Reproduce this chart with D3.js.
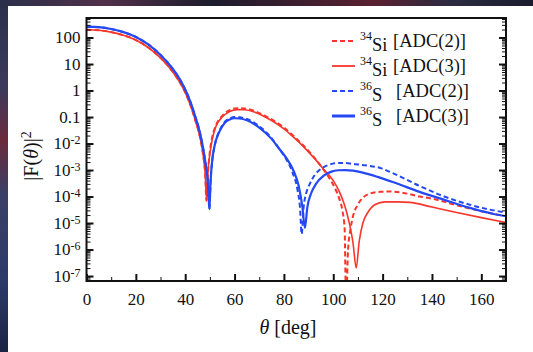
<!DOCTYPE html>
<html><head><meta charset="utf-8">
<script src="https://cdn.jsdelivr.net/npm/d3@7/dist/d3.min.js"></script>
<style>
html,body{margin:0;padding:0;background:#1b2033;}
svg{display:block;}
svg text{font-family:"Liberation Serif","Times New Roman",Times,"DejaVu Serif",serif !important;fill:#111;}
</style></head>
<body>
<svg id="chart" width="533" height="352"></svg>
<script>
// ---- data (theta in degrees, |F(theta)|^2) ----
const si34Adc2 = [[0,196],[5,188],[10,160],[15,122],[20,80],[25,42],[30,17],[35,5],[38,1.9],[40,0.85],[42,0.3],[44,0.08],[46,0.017],[47.3,3.5e-3],[48.1,7e-4],[48.6,7e-5],
  [49.3,1e-3],[50,5e-3],[51,0.018],[52.5,0.05],[55,0.11],[58,0.18],[61,0.215],[64,0.21],[68,0.17],[72,0.115],[76,0.072],[80,0.04],[84,0.019],[88,8.2e-3],[92,3.2e-3],[96,1.05e-3],[99,4e-4],[101,1.8e-4],[102.5,8e-5],[103.7,3e-5],[104.6,6e-6],[105.2,1e-8],
  [106,1e-6],[107,6e-6],[108,1.8e-5],[110,5e-5],[112,9e-5],[115,1.3e-4],[119,1.5e-4],[123,1.55e-4],[128,1.4e-4],[135,1e-4],[140,8.3e-5],[150,4.7e-5],[160,2.8e-5],[170,1.8e-5]];
const si34Adc3 = [[0,196],[5,188],[10,160],[15,122],[20,80],[25,42],[30,17],[35,5],[38,1.9],[40,0.85],[42,0.3],[44,0.08],[46,0.017],[47.3,3.5e-3],[48.1,7e-4],[48.7,7e-5],
  [49.2,8e-4],[50,4e-3],[51,0.015],[52.5,0.045],[55,0.1],[58,0.16],[61,0.19],[64,0.188],[68,0.155],[72,0.105],[76,0.065],[80,0.036],[84,0.017],[88,7.5e-3],[92,3e-3],[96,1.1e-3],[100,4e-4],[102.5,1.5e-4],[104.5,5e-5],[106.5,1e-5],[108,1.8e-6],[109.3,2e-7],
  [110.5,2e-6],[112,1e-5],[114,2.5e-5],[117,5e-5],[121,6.3e-5],[126,6.3e-5],[131,6e-5],[140,4e-5],[150,2.5e-5],[160,1.6e-5],[170,1.05e-5]];
const s36Adc2 = [[0,256],[5,245],[10,210],[15,160],[20,105],[25,55],[30,22],[35,6.5],[38,2.5],[40,1.1],[42,0.4],[44,0.11],[46,0.025],[47.5,5e-3],[48.5,1.2e-3],[49.3,2.5e-4],[49.8,3.3e-5],
  [50.3,4e-4],[51,2.5e-3],[52,9e-3],[54,0.032],[56,0.065],[58,0.088],[60,0.1],[62,0.098],[65,0.084],[70,0.045],[75,0.016],[78,6.5e-3],[81,2.5e-3],[83.5,8e-4],[85.5,1.8e-4],[86.5,4e-5],[87.2,3.8e-6],
  [88,4e-5],[89,1.3e-4],[90.5,3e-4],[92.5,6.5e-4],[95,1.1e-3],[98,1.55e-3],[101,1.8e-3],[104,1.85e-3],[108,1.7e-3],[113,1.5e-3],[119,1.2e-3],[125,7e-4],[135,2.5e-4],[145,1e-4],[155,5e-5],[165,3e-5],[170,2.5e-5]];
const s36Adc3 = [[0,256],[5,245],[10,210],[15,160],[20,105],[25,55],[30,22],[35,6.5],[38,2.5],[40,1.1],[42,0.4],[44,0.11],[46,0.025],[47.5,5e-3],[48.5,1.2e-3],[49.3,2.5e-4],[49.8,3.3e-5],
  [50.3,4e-4],[51,2.5e-3],[52,9e-3],[54,0.03],[56,0.06],[58,0.08],[60,0.09],[62,0.088],[65,0.075],[70,0.04],[75,0.015],[78,6.5e-3],[81,2.8e-3],[84,9e-4],[86,2.5e-4],[87.5,4e-5],[88.5,6.5e-6],
  [89.5,4e-5],[91,1.3e-4],[93,3e-4],[96,6e-4],[99,8.5e-4],[102,9.8e-4],[105,1e-3],[108,9.5e-4],[112,8e-4],[118,5.5e-4],[125,3.3e-4],[135,1.5e-4],[145,7.5e-5],[155,3.8e-5],[165,2.2e-5],[170,1.8e-5]];

const xTicks = [0,20,40,60,80,100,120,140,160];
const yTicks = [1e2,1e1,1,1e-1,1e-2,1e-3,1e-4,1e-5,1e-6,1e-7];
const yTickLabels = ["100","10","1","0.1","10|-2","10|-3","10|-4","10|-5","10|-6","10|-7"];
const legendLabels = [["34","Si","[ADC(2)]"],["34","Si","[ADC(3)]"],["36","S","[ADC(2)]"],["36","S","[ADC(3)]"]];

const RED = "#f8352a", BLUE = "#2448f2";
const SERIF = '"Liberation Serif","Times New Roman",Times,"DejaVu Serif",serif';
const seriesList = [
  {data:si34Adc2, color:RED,  width:2,   dash:"5,3"},
  {data:si34Adc3, color:RED,  width:1.6, dash:null},
  {data:s36Adc2,  color:BLUE, width:2,   dash:"5,3"},
  {data:s36Adc3,  color:BLUE, width:2.2, dash:null}
];

const svg = d3.select("#chart").style("font-family",SERIF);
const defs = svg.append("defs");
const g1 = defs.append("linearGradient").attr("id","bgL").attr("x1",0).attr("y1",0).attr("x2",0).attr("y2",1);
[[0,"#2a2f4a"],[0.25,"#3c3a5c"],[0.4,"#6a2a3c"],[0.55,"#3a3f66"],[0.8,"#2c3a6a"],[1,"#1c2444"]].forEach(s=>g1.append("stop").attr("offset",s[0]).attr("stop-color",s[1]));
const g2 = defs.append("linearGradient").attr("id","bgT").attr("x1",0).attr("y1",0).attr("x2",1).attr("y2",0);
[[0,"#2a2f4a"],[0.2,"#503048"],[0.4,"#1c1c2c"],[0.7,"#5a2030"],[0.85,"#2a2a40"],[1,"#1c1c30"]].forEach(s=>g2.append("stop").attr("offset",s[0]).attr("stop-color",s[1]));
svg.append("rect").attr("x",0).attr("y",0).attr("width",533).attr("height",352).attr("fill","url(#bgL)");
svg.append("rect").attr("x",0).attr("y",0).attr("width",533).attr("height",7).attr("fill","url(#bgT)");
svg.append("rect").attr("x",8).attr("y",6).attr("width",525).attr("height",346).attr("fill","#fff");

const L = 86.5, R = 506, T = 18, B = 281;
const x = d3.scaleLinear().domain([0,170]).range([L,R]);
const y = d3.scaleLog().domain([6.5e-8,545]).range([B,T]);

defs.append("clipPath").attr("id","plotclip").append("rect").attr("x",L).attr("y",T).attr("width",R-L).attr("height",B-T);

const line = d3.line().x(d=>x(d[0])).y(d=>y(d[1])).curve(d3.curveMonotoneX);
const lines = svg.append("g").attr("clip-path","url(#plotclip)");
seriesList.forEach(s=>{
  lines.append("path").attr("d",line(s.data)).attr("fill","none")
    .attr("stroke",s.color).attr("stroke-width",s.width)
    .attr("stroke-dasharray",s.dash).attr("stroke-linejoin","round");
});

const yMinor = [];
for (let e=-8;e<=2;e++) for (let m=2;m<=9;m++){const v=m*Math.pow(10,e); if(v>=6.5e-8 && v<=545) yMinor.push(v);}
const xMinor = d3.range(10,170,20);

function styleAxis(g, w){
  g.attr("font-family",SERIF);
  g.select(".domain").remove();
  g.selectAll("line").attr("stroke","#111").attr("stroke-width",w);
}
const gl = svg.append("g").attr("transform",`translate(${L},0)`)
  .call(d3.axisLeft(y).tickValues(yMinor).tickSize(-4).tickFormat(""));
styleAxis(gl,1);
const glM = svg.append("g").attr("transform",`translate(${L},0)`)
  .call(d3.axisLeft(y).tickValues(yTicks).tickSize(-7).tickPadding(6).tickFormat((d,i)=>yTickLabels[i]));
styleAxis(glM,2);
glM.selectAll("text").attr("font-size",17).style("font-family",SERIF).attr("fill","#111").each(function(d,i){
  const lab = yTickLabels[i];
  if (lab.includes("|")) {
    const [base,exp] = lab.split("|");
    const t = d3.select(this).text("");
    t.append("tspan").text(base);
    t.append("tspan").attr("dy","-0.45em").attr("font-size",12).text(exp);
  }
});
const gr = svg.append("g").attr("transform",`translate(${R},0)`)
  .call(d3.axisRight(y).tickValues(yMinor).tickSize(-4).tickFormat(""));
styleAxis(gr,1);
const grM = svg.append("g").attr("transform",`translate(${R},0)`)
  .call(d3.axisRight(y).tickValues(yTicks).tickSize(-7).tickFormat(""));
styleAxis(grM,2);
const gb = svg.append("g").attr("transform",`translate(0,${B})`)
  .call(d3.axisBottom(x).tickValues(xMinor).tickSize(-4).tickFormat(""));
styleAxis(gb,1);
const gbM = svg.append("g").attr("transform",`translate(0,${B})`)
  .call(d3.axisBottom(x).tickValues(xTicks).tickSize(-7).tickPadding(12).tickFormat(d3.format("d")));
styleAxis(gbM,2);
gbM.selectAll("text").attr("font-size",17).style("font-family",SERIF).attr("fill","#111");

svg.append("rect").attr("x",L).attr("y",T).attr("width",R-L).attr("height",B-T)
  .attr("fill","none").attr("stroke","#111").attr("stroke-width",2);

const xt = svg.append("text").attr("x",288).attr("y",334).attr("text-anchor","middle").attr("font-size",20);
xt.append("tspan").attr("font-style","italic").text("θ");
xt.append("tspan").text(" [deg]");
const yt = svg.append("text").attr("transform","translate(38,156) rotate(-90)").attr("text-anchor","middle").attr("font-size",20);
yt.append("tspan").text("|F(");
yt.append("tspan").attr("font-style","italic").text("θ");
yt.append("tspan").text(")|");
yt.append("tspan").attr("dy","-0.5em").attr("font-size",14).text("2");

const lg = svg.append("g");
legendLabels.forEach((lab,i)=>{
  const s = seriesList[i];
  const cy = 41 + i*25;
  lg.append("line").attr("x1",332).attr("x2",355).attr("y1",cy).attr("y2",cy)
    .attr("stroke",s.color).attr("stroke-width",i===3?3:(s.dash?2.2:1.8)).attr("stroke-dasharray",s.dash);
  const t = lg.append("text").attr("x",360).attr("y",cy+6).attr("font-size",18.5);
  t.append("tspan").attr("font-size",12).attr("dy","-0.55em").text(lab[0]);
  t.append("tspan").attr("dy","0.55em").text(lab[1]);
  lg.append("text").attr("x",lab[1]==="Si"?393:396).attr("y",cy+6).attr("font-size",18.5).text(lab[2]);
});
</script>
</body></html>
